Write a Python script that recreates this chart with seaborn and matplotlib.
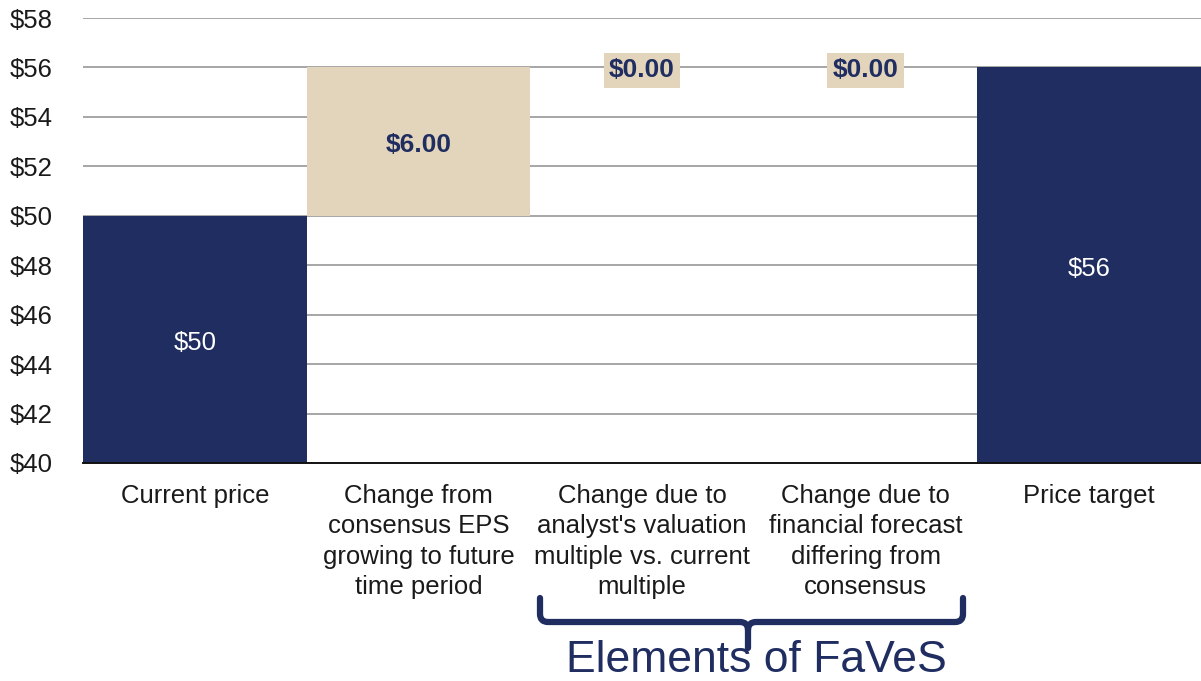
import numpy as np
import pandas as pd
import seaborn as sns
import matplotlib
matplotlib.use("Agg")
import matplotlib.pyplot as plt
from matplotlib.path import Path
from matplotlib.patches import PathPatch

sns.set_style("white")
plt.rcParams["font.family"] = ["Liberation Sans", "DejaVu Sans"]

NAVY = "#202D61"
TAN = "#E3D5BB"
GRID = "#A6A6A6"

categories = [
    "Current price",
    "Change from\nconsensus EPS\ngrowing to future\ntime period",
    "Change due to\nanalyst's valuation\nmultiple vs. current\nmultiple",
    "Change due to\nfinancial forecast\ndiffering from\nconsensus",
    "Price target",
]
totals = [50, 0, 0, 0, 56]          # full bars (current price, target)
change_base = [0, 50, 56, 56, 0]     # where each step starts
change_size = [0, 6.00, 0.00, 0.00, 0]  # step size
total_labels = ["$50", None, None, None, "$56"]

df = pd.DataFrame({"category": categories, "total": totals,
                   "base": change_base, "change": change_size})

fig = plt.figure(figsize=(12.01, 6.81), dpi=100)
ax = fig.add_axes([83 / 1201, 1 - 463 / 681, (1201 - 83) / 1201, (463 - 18) / 681])

ax.set_axisbelow(True)
ax.yaxis.grid(True, color=GRID, linewidth=1.4)

sns.barplot(data=df, x="category", y="total", color=NAVY, width=1.0,
            saturation=1, ax=ax, linewidth=0)
sns.barplot(data=df, x="category", y="change", bottom=df["base"].values,
            color=TAN, width=1.0, saturation=1, ax=ax, linewidth=0)

ax.set_ylim(40, 58)
ax.set_xlim(-0.5, len(categories) - 0.5)
ax.set_yticks(np.arange(40, 59, 2))
ax.set_yticklabels([f"${v}" for v in range(40, 59, 2)])
ax.tick_params(axis="y", length=0, pad=22, labelsize=18.5, labelcolor="#1a1a1a")
ax.tick_params(axis="x", length=0, pad=15, labelsize=18.5, labelcolor="#1a1a1a")
for lab in ax.get_xticklabels():
    lab.set_linespacing(1.34)
ax.set_xlabel("")
ax.set_ylabel("")
for s in ["top", "right", "left"]:
    ax.spines[s].set_visible(False)
ax.spines["bottom"].set_color("#111111")
ax.spines["bottom"].set_linewidth(1.4)

# value labels on the total bars (centred in the visible part)
for i, lab in enumerate(total_labels):
    if lab:
        ax.text(i, (40 + totals[i]) / 2 - 0.15, lab, ha="center", va="center",
                color="white", fontsize=18.5)

# value labels on the step bars
for i in range(1, 4):
    b, c = change_base[i], change_size[i]
    if c > 0:
        ax.text(i, b + c / 2 - 0.12, f"${c:.2f}", ha="center", va="center",
                color=NAVY, fontsize=19, fontweight="bold")
    else:
        ax.text(i, b - 0.12, f"${c:.2f}", ha="center", va="center",
                color=NAVY, fontsize=19, fontweight="bold",
                bbox=dict(boxstyle="square,pad=0.2", fc=TAN, ec="none"))

# curly bracket grouping the FaVeS steps
W, H = 1201, 681
def fp(x, y):
    return (x / W, 1 - y / H)

x0, x1, xm = 540, 963, 748
ytop, ymid, ytip, r = 598, 622, 648, 8
verts = [fp(x0, ytop), fp(x0, ymid - r), fp(x0, ymid), fp(x0 + r, ymid),
         fp(xm - r, ymid), fp(xm, ymid), fp(xm, ymid + r), fp(xm, ytip),
         fp(xm, ymid + r), fp(xm, ymid), fp(xm + r, ymid),
         fp(x1 - r, ymid), fp(x1, ymid), fp(x1, ymid - r), fp(x1, ytop)]
codes = [Path.MOVETO, Path.LINETO, Path.CURVE3, Path.CURVE3,
         Path.LINETO, Path.CURVE3, Path.CURVE3, Path.LINETO,
         Path.MOVETO, Path.CURVE3, Path.CURVE3,
         Path.LINETO, Path.CURVE3, Path.CURVE3, Path.LINETO]
brace = PathPatch(Path(verts, codes), transform=fig.transFigure, fill=False,
                  edgecolor=NAVY, linewidth=4.5, capstyle="round",
                  joinstyle="round")
fig.patches.append(brace)

fig.text(756 / W, 1 - 660 / H, "Elements of FaVeS", ha="center", va="center",
         color=NAVY, fontsize=32)

fig.savefig("out.png", dpi=100)
